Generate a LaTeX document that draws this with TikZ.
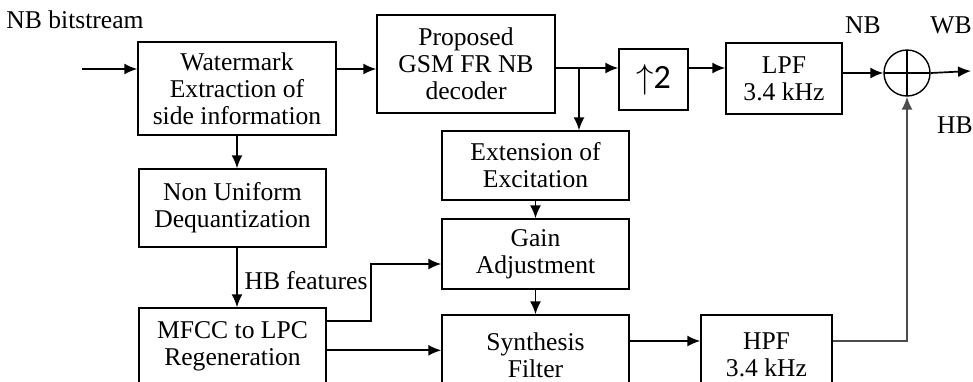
\documentclass[tikz,border=0pt]{standalone}
\usepackage{fontspec}
\setmainfont{Liberation Serif}
\setsansfont{Carlito}
\usepackage{tikz}
\usetikzlibrary{arrows.meta, positioning, calc}
\tikzstyle{block} = [rectangle, draw, line width=0.7pt, inner sep=0pt, align=center, font=\fontsize{12.8}{13.5}\selectfont]
\tikzstyle{lbl} = [inner sep=0pt, font=\fontsize{12.8}{13.5}\selectfont]
\tikzstyle{arrow} = [line width=0.85pt, -{Latex[length=6.5pt,width=5.5pt]}]

\begin{document}
\begin{tikzpicture}[x=0.5pt, y=-0.5pt]
\clip (0,0) rectangle (973,381);
% upper chain
\node (wm) [block, minimum width=99pt, minimum height=46.5pt] at (237,88.5) {Watermark\\Extraction of\\side information};
\node (prop) [block, minimum width=89pt, minimum height=49pt] at (466,64) {Proposed\\GSM FR NB\\decoder};
\node (up) [block, minimum width=34.5pt, minimum height=30.5pt] at (653.5,79.5) {\fontsize{17}{17}\selectfont$\uparrow$\sffamily 2};
\node (lpf) [block, minimum width=58pt, minimum height=35.5pt] at (784,78.5) {LPF\\3.4 kHz};
\node (sum) [circle, draw, line width=0.7pt, minimum size=23pt, inner sep=0pt,
  path picture={\draw[line width=0.7pt] (path picture bounding box.north) -- (path picture bounding box.south)
  (path picture bounding box.west) -- (path picture bounding box.east);}] at (907,73) {};

% high band path
\node (ext) [block, minimum width=93.5pt, minimum height=34.5pt] at (535.5,165.5) {Extension of\\Excitation};
\node (gain) [block, minimum width=93.5pt, minimum height=35pt] at (535.5,254) {Gain\\Adjustment};
\node (syn) [block, minimum width=93.5pt, minimum height=40pt] at (535.5,355) {Synthesis\\Filter};
\node (hpf) [block, minimum width=65.5pt, minimum height=40pt] at (766.5,355) {HPF\\3.4 kHz};
\node (nuq) [block, minimum width=93.5pt, minimum height=39pt] at (232.5,208) {Non Uniform\\Dequantization};
\node (mfcc) [block, minimum width=93.5pt, minimum height=38pt] at (232.5,346) {MFCC to LPC\\Regeneration};

% labels
\node (bits) [lbl] at (75,20) {NB bitstream};
\node (nb) [lbl] at (863,25) {NB};
\node (wb) [lbl] at (951,25) {WB};
\node (hb) [lbl] at (955,125) {HB};
\node (hbf) [lbl] at (306,281) {HB features};

\coordinate (in) at (82,69);
\coordinate (br) at (579,68);
\coordinate (out) at (971,71);
\coordinate (jn) at (371,264);
\coordinate (mf) at ($(mfcc.north east)+(0,43)$);
\coordinate (sy) at ($(syn.east)+(0,-14)$);

\draw [arrow] (in) -- (in -| wm.west);
\draw [arrow] (wm.east |- in) -- (prop.west |- in);
\draw [arrow] (prop.east |- br) -- (up.west |- br);
\draw [arrow] (br) -- (br |- ext.north);
\draw [arrow] (up.east |- br) -- (lpf.west |- br);
\draw [arrow] (lpf.east |- sum.west) -- (sum.west);
\draw [arrow] (sum.east) -- (out);
\draw [arrow] (ext.south) -- (gain.north);
\draw [arrow] (gain.south) -- (syn.north);
\draw [arrow] (wm.south) -- (wm.south |- nuq.north);
\draw [arrow] (wm.south |- nuq.south) -- (wm.south |- mfcc.north);
\draw [arrow] ($(mfcc.north east)+(0,14)$) -| (jn) -- (jn -| gain.west);
\draw [arrow] (mf) -- (mf -| syn.west);
\draw [arrow] (sy) -- (sy -| hpf.west);
\draw [arrow, draw=black!70] (hpf.east |- sy) -| (sum.south);
\end{tikzpicture}
\end{document}
